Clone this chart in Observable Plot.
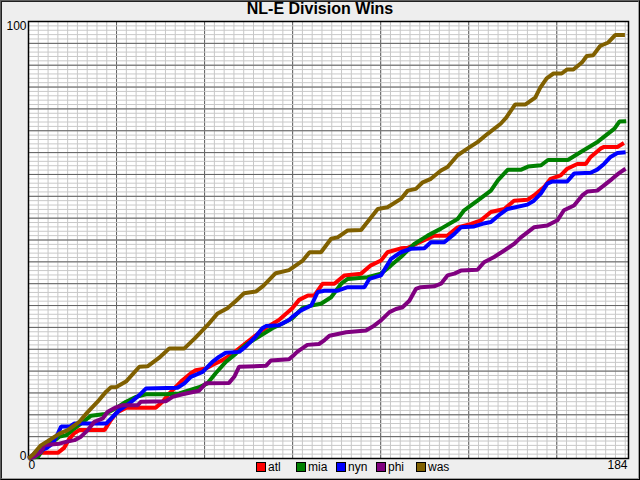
<!DOCTYPE html>
<html>
<head>
<meta charset="utf-8">
<script src="https://cdn.jsdelivr.net/npm/d3@7"></script>
<script src="https://cdn.jsdelivr.net/npm/@observablehq/plot@0.6"></script>
<style>
  html, body { margin: 0; padding: 0; background: #eeeeee; }
  #wrap { position: relative; width: 640px; height: 480px; background: #eeeeee; overflow: hidden; }
  #title { height: 21px; line-height: 25px; text-align: center; font: bold 16px "Liberation Sans", Arial, sans-serif; color: #000; white-space: nowrap; }
  #legend { position: absolute; left: 256px; top: 460px; display: flex; font: 12px "Liberation Sans Narrow", "Liberation Sans", Arial, sans-serif; color: #000; }
  .item { width: 40px; display: flex; align-items: center; height: 14px; }
  .sw { width: 8px; height: 8px; border: 1px solid #000; margin-right: 2px; }
  #b1 { position: absolute; left: 0; top: 0; width: 640px; height: 480px; box-sizing: border-box; border: 1px solid; border-color: #606060 #000 #000 #606060; pointer-events: none; }
  #b2 { position: absolute; left: 1px; top: 1px; width: 638px; height: 478px; box-sizing: border-box; border: 1px solid; border-color: #202020 #a0a0a0 #a0a0a0 #202020; pointer-events: none; }
</style>
</head>
<body>
<div id="wrap">
  <div id="title">NL-E Division Wins</div>
  <div id="chart"></div>
  <div id="legend"></div>
  <div id="b1"></div>
  <div id="b2"></div>
</div>
<script>
// Teams, colours and tick labels
const teams = ["atl", "mia", "nyn", "phi", "was"];
const teamColors = ["#ff0000", "#008000", "#0000ff", "#800080", "#806000"];
const xTickLabels = [0, 184];
const yTickLabels = [0, 100];

// Cumulative wins per team as [x, wins] vertices
const atl = [[0,0],[1,0.5],[3.3,1.3],[9,1.3],[11,2.5],[12.5,4.5],[14,5.8],[15.6,6.5],[23.3,6.5],[25,8.5],[27,10.5],[30,11.6],[39,11.6],[41.1,13],[43.2,14.9],[47.2,17.9],[49.8,19.5],[51.3,20.2],[54.4,20.6],[56.4,21.4],[59.5,22.5],[62.6,24],[66,26],[69.7,28.2],[73,30],[76.8,31.7],[80.9,34.4],[83,36.3],[85.7,37.3],[87.7,37.3],[90.2,40],[93.8,40],[96.9,41.9],[102,42.3],[105,44.2],[108.1,45.3],[110.1,47.2],[114.2,48.1],[116.3,48.2],[120,49.5],[124.4,51],[128.5,51],[131.6,52.9],[135.7,53.7],[138.7,54.5],[141.8,56.4],[145.9,57.1],[148.9,59],[153,59.2],[155,60.2],[158.1,62.1],[160.1,64],[163.2,64.8],[165.2,66.3],[168.3,67.4],[170.9,67.4],[172.4,69],[175.4,70.9],[176.5,71.3],[180.6,71.3],[182.6,72.2]];
const mia = [[0,0],[1.3,0.2],[2.9,0.4],[5.4,3.1],[7.4,3.8],[9.5,5],[11.5,5.3],[13.6,6.6],[16.1,8],[19.2,9.8],[23.5,10.2],[26.8,11.5],[29.9,13],[33,14.1],[36,14.7],[42.1,14.7],[46.2,14.9],[52.3,16.3],[54.9,17.2],[57.4,19.5],[60.5,22.1],[63.6,24],[66.6,26],[70.7,27.9],[74.8,29.8],[77.9,30.9],[80.9,32.1],[84,34.4],[86.7,35],[89.7,35.4],[92.8,36.9],[95.9,40],[97.9,41.1],[104,41.5],[108.1,42.3],[111.2,44.2],[114.2,46.1],[118.3,49.1],[122.4,51],[126.5,52.6],[131.6,54.8],[133.6,56.8],[137.7,59],[141.8,61.3],[144,63.7],[147,66.1],[151.1,66.1],[153.2,66.8],[157.2,67.1],[159.3,68.3],[165.4,68.3],[169.5,70.2],[174.6,72.5],[179.7,75.5],[181.2,77.1],[183.3,77.2]];
const nyn = [[0,0],[0.8,0.4],[2.3,1.5],[5.4,2.3],[7.4,3.4],[9,5.7],[10,7.3],[12.6,7.3],[14.1,8],[23.8,8],[25.8,9.5],[27.9,11.1],[30.9,12.6],[34,14.5],[36,16],[45.7,16.2],[47.8,17.2],[49.8,18.7],[53.4,19.8],[56.4,22.1],[58.5,23.3],[60.5,24.2],[64.6,24.4],[66.6,25.6],[69.7,27.9],[71.7,29.8],[72.8,30.3],[76.8,30.5],[79.9,31.7],[80.9,32.4],[83.6,33.9],[86.7,35],[88.7,38.1],[90.8,38.4],[94.8,38.4],[97.9,39.2],[103,39.2],[104.5,41.1],[108.1,41.9],[111.2,45.7],[114.2,47.2],[117.3,48],[121.4,48.1],[123.4,49.5],[127.5,49.5],[130.6,51.4],[132.6,52.9],[136.7,53.1],[139.2,53.7],[141.8,54.1],[144.8,56],[146.9,57.1],[153,58.1],[155,59],[157.1,60.6],[159.1,62.9],[160.7,63.4],[165.2,63.4],[167.3,65.2],[172.4,65.4],[174.4,66.1],[176.5,67.4],[178.5,69],[180.6,69.9],[183.1,70.1]];
const phi = [[0,0],[1.8,0.4],[3.9,1.5],[4.9,3.1],[9.5,3.4],[11.5,3.8],[14.1,4.2],[16.1,5],[18.2,6.5],[20.2,8.4],[22.8,9.2],[24.3,10.7],[26.8,11.7],[28.9,12.2],[33.5,12.2],[34.5,13],[42.1,13.1],[44.2,14.1],[47.2,14.7],[52.3,15.5],[54.4,17.2],[61.5,17.3],[63.1,18.7],[64.6,21],[72.8,21.2],[74.3,22.4],[79.9,22.7],[81.4,23.7],[82.4,24.4],[85.5,26],[89.1,26.2],[90.8,27.1],[92.3,28.1],[97.4,28.9],[103.5,29.3],[105.6,30.2],[108.1,31.6],[110.7,33.5],[112.7,34.2],[114.7,34.6],[116.8,36.1],[118.8,38.8],[120.3,39.2],[124.4,39.4],[126.5,40],[128.5,41.9],[130.6,42.3],[132.6,43],[137.7,43.2],[139.7,44.9],[142.8,46.1],[145.9,47.6],[148.9,49.1],[151,50.6],[155,52.9],[159.1,53.3],[162.2,54.5],[164.2,56.8],[167.3,57.9],[169.8,60.2],[171.4,61.1],[174.4,61.3],[176.5,62.5],[179,64],[181.1,65.3],[183.1,66.3]];
const was = [[0,0],[1.5,1],[3.8,3],[6,4],[9.5,5.7],[12,6.5],[15.6,8.4],[18,10.5],[21.2,13],[23.8,15.3],[25.3,16.3],[26.8,16.3],[29.9,17.6],[34,21],[36.5,21.1],[40,23],[43.2,25.2],[47.8,25.2],[51,27.5],[54.9,30.5],[58,33.2],[61,34.4],[63.5,36],[66.1,37.8],[69.7,38.2],[72,39.5],[75.8,42.4],[79.9,43.1],[84.1,45.3],[86.2,47.2],[89.7,47.2],[92.8,50.3],[94.8,50.6],[97.9,52.2],[102,52.3],[107.1,57.1],[110.1,57.5],[114.2,59.4],[116.3,61.3],[118.8,61.7],[120.9,63.2],[123.4,64],[126.5,65.9],[128.5,66.7],[131.6,69.4],[134.6,70.9],[137.7,72.4],[140.8,74.3],[144.8,76.6],[146.5,78],[149.2,81],[152.3,81],[155.4,82.6],[156.9,84.8],[158.9,87],[161,88.1],[163.5,88.1],[165.1,89],[167.1,89],[169.7,90.6],[171.2,92.1],[173.2,92.3],[175.3,94.4],[177.8,95.2],[179.9,96.9],[182.9,96.9]];

const seriesPoints = {atl, mia, nyn, phi, was};
const rows = teams.flatMap(t => seriesPoints[t].map(([x, y]) => ({team: t, x, y})));

// Grid spacing
const minorX = d3.range(0, 185, 3);
const majorX = d3.range(0, 185, 27);
const minorY = d3.range(0, 101, 1);
const majorY = d3.range(0, 101, 5);

const tickFont = {fontSize: 12, fontFamily: "'Liberation Sans Narrow', 'Liberation Sans', Arial, sans-serif"};

const chart = Plot.plot({
  width: 640,
  height: 459,
  marginTop: 0,
  marginLeft: 28,
  marginRight: 12,
  marginBottom: 22,
  x: {domain: [0, 184]},
  y: {domain: [0, 100]},
  color: {domain: teams, range: teamColors},
  style: {background: "transparent", overflow: "visible", color: "#000"},
  marks: [
    Plot.frame({fill: "white", stroke: null}),
    Plot.ruleX(minorX, {stroke: "#c8c8c8", strokeWidth: 1}),
    Plot.ruleX(majorX, {stroke: "#606060", strokeWidth: 1}),
    Plot.ruleY(minorY, {stroke: "#c8c8c8", strokeWidth: 1}),
    Plot.ruleY(majorY, {stroke: "#606060", strokeWidth: 1}),
    Plot.frame({stroke: "#000", strokeWidth: 1.5}),
    Plot.line(rows, {x: "x", y: "y", z: "team", stroke: "team", strokeWidth: 4, strokeLinejoin: "miter", strokeLinecap: "butt"}),
    Plot.axisX([xTickLabels[0]], {tickSize: 0, tickPadding: 2, textAnchor: "start", label: null, ...tickFont}),
    Plot.axisX([xTickLabels[1]], {tickSize: 0, tickPadding: 2, textAnchor: "end", dx: -1, label: null, ...tickFont}),
    Plot.axisY([yTickLabels[1]], {tickSize: 0, tickPadding: 2, lineAnchor: "top", label: null, ...tickFont}),
    Plot.axisY([yTickLabels[0]], {tickSize: 0, tickPadding: 2, lineAnchor: "bottom", dy: 1, label: null, ...tickFont})
  ]
});
document.getElementById("chart").appendChild(chart);

const legend = document.getElementById("legend");
teams.forEach((t, i) => {
  const item = document.createElement("div");
  item.className = "item";
  const sw = document.createElement("div");
  sw.className = "sw";
  sw.style.background = teamColors[i];
  const label = document.createElement("span");
  label.textContent = t;
  item.appendChild(sw);
  item.appendChild(label);
  legend.appendChild(item);
});
</script>
</body>
</html>
